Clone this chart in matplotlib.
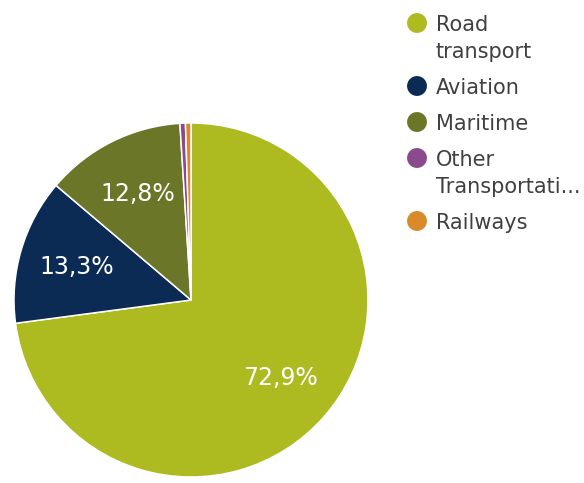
import matplotlib
matplotlib.use("Agg")
import matplotlib.pyplot as plt

# Transport emissions share by mode
categories = ["Road transport", "Aviation", "Maritime", "Other Transportation", "Railways"]
legend_labels = ["Road\ntransport", "Aviation", "Maritime", "Other\nTransportati...", "Railways"]
shares = [72.9, 13.3, 12.8, 0.5, 0.5]
colors = ["#adbb21", "#0b2b55", "#6b7628", "#8b4a8e", "#d98a2b"]


def pct_label(pct):
    # only the large slices get a label, with a decimal comma
    if pct < 5:
        return ""
    return f"{pct:.1f}".replace(".", ",") + "%"


W, H = 584, 483
fig = plt.figure(figsize=(W / 100, H / 100), dpi=100)

# pie area
ax = fig.add_axes([14 / W, 6 / H, 354 / W, 354 / H])
wedges, texts, autotexts = ax.pie(
    shares,
    colors=colors,
    startangle=90,
    counterclock=False,
    autopct=pct_label,
    pctdistance=0.67,
    wedgeprops=dict(edgecolor="white", linewidth=1.1),
    textprops=dict(color="white", fontsize=17, family="DejaVu Sans"),
)
ax.set_xlim(-1, 1)
ax.set_ylim(-1, 1)
ax.set_aspect("equal")

# legend drawn in pixel coordinates on an overlay
lg = fig.add_axes([0, 0, 1, 1])
lg.set_xlim(0, W)
lg.set_ylim(H, 0)
lg.axis("off")

y = 31
for label, color in zip(legend_labels, colors):
    lg.scatter([417], [y - 8], s=205, color=color, edgecolors="none")
    lines = label.split("\n")
    for i, line in enumerate(lines):
        lg.text(436, y + 27 * i, line, fontsize=15, color="#404040",
                va="baseline", ha="left", family="DejaVu Sans")
    y += 36 + 27 * (len(lines) - 1)

fig.savefig("out.png", dpi=100)
